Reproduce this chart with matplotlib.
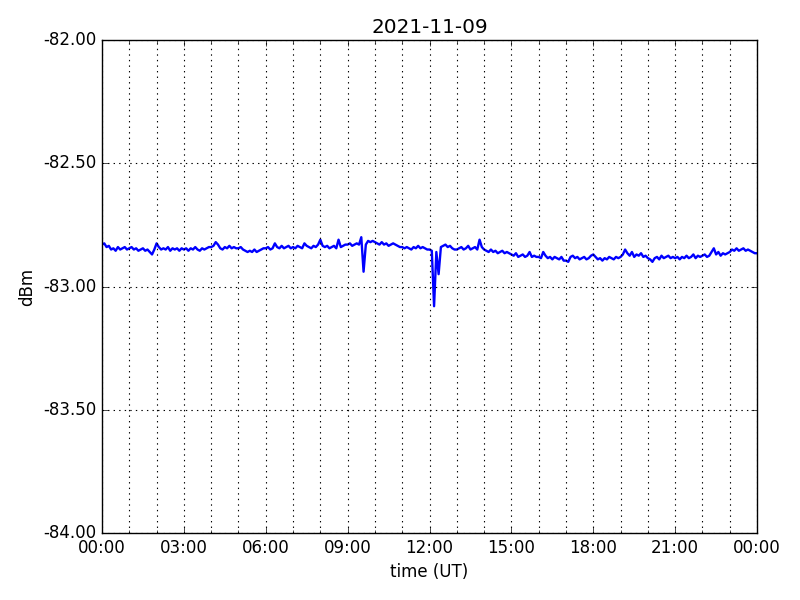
import numpy as np
import pandas as pd
import matplotlib
matplotlib.use("Agg")
import matplotlib.pyplot as plt
import matplotlib.dates as mdates
from matplotlib.ticker import FormatStrFormatter, MultipleLocator

plt.style.use("classic")

# settings
DAY = "2021-11-09"
STEP_MIN = 5

# received level (dBm), one row per hour, 5-minute samples
h00 = [-82.830, -82.825, -82.840, -82.835, -82.850, -82.845, -82.855, -82.840, -82.850, -82.845, -82.840, -82.850]
h01 = [-82.845, -82.840, -82.850, -82.845, -82.855, -82.850, -82.845, -82.855, -82.850, -82.860, -82.870, -82.850]
h02 = [-82.825, -82.840, -82.850, -82.845, -82.850, -82.840, -82.855, -82.845, -82.850, -82.845, -82.855, -82.845]
h03 = [-82.850, -82.845, -82.855, -82.845, -82.850, -82.840, -82.850, -82.855, -82.845, -82.850, -82.845, -82.840]
h04 = [-82.840, -82.835, -82.820, -82.830, -82.845, -82.850, -82.840, -82.845, -82.835, -82.845, -82.840, -82.845]
h05 = [-82.845, -82.840, -82.850, -82.855, -82.860, -82.855, -82.860, -82.850, -82.860, -82.855, -82.850, -82.845]
h06 = [-82.845, -82.840, -82.850, -82.845, -82.825, -82.840, -82.845, -82.835, -82.845, -82.840, -82.835, -82.845]
h07 = [-82.840, -82.845, -82.835, -82.840, -82.845, -82.825, -82.835, -82.840, -82.845, -82.835, -82.840, -82.830]
h08 = [-82.810, -82.835, -82.840, -82.835, -82.845, -82.840, -82.835, -82.845, -82.810, -82.840, -82.835, -82.830]
h09 = [-82.830, -82.825, -82.835, -82.830, -82.825, -82.830, -82.800, -82.940, -82.830, -82.815, -82.820, -82.815]
h10 = [-82.820, -82.825, -82.830, -82.820, -82.830, -82.825, -82.835, -82.830, -82.825, -82.830, -82.835, -82.840]
h11 = [-82.840, -82.845, -82.840, -82.845, -82.850, -82.840, -82.845, -82.835, -82.845, -82.840, -82.845, -82.850]
h12 = [-82.850, -82.855, -83.080, -82.860, -82.950, -82.840, -82.835, -82.830, -82.840, -82.835, -82.845, -82.850]
h13 = [-82.850, -82.845, -82.840, -82.850, -82.845, -82.835, -82.850, -82.845, -82.840, -82.850, -82.810, -82.840]
h14 = [-82.850, -82.855, -82.860, -82.850, -82.860, -82.855, -82.865, -82.860, -82.855, -82.865, -82.860, -82.865]
h15 = [-82.870, -82.875, -82.865, -82.880, -82.875, -82.870, -82.880, -82.875, -82.860, -82.880, -82.875, -82.880]
h16 = [-82.880, -82.885, -82.860, -82.875, -82.885, -82.880, -82.890, -82.880, -82.885, -82.890, -82.880, -82.895]
h17 = [-82.895, -82.900, -82.880, -82.875, -82.885, -82.880, -82.890, -82.885, -82.880, -82.890, -82.885, -82.875]
h18 = [-82.870, -82.880, -82.890, -82.885, -82.895, -82.885, -82.890, -82.880, -82.885, -82.890, -82.880, -82.885]
h19 = [-82.880, -82.870, -82.850, -82.865, -82.875, -82.860, -82.880, -82.870, -82.875, -82.865, -82.880, -82.875]
h20 = [-82.885, -82.890, -82.900, -82.885, -82.880, -82.890, -82.875, -82.885, -82.880, -82.875, -82.885, -82.880]
h21 = [-82.885, -82.880, -82.890, -82.880, -82.885, -82.875, -82.885, -82.880, -82.870, -82.885, -82.875, -82.880]
h22 = [-82.875, -82.870, -82.880, -82.875, -82.860, -82.845, -82.870, -82.860, -82.875, -82.865, -82.870, -82.865]
h23 = [-82.860, -82.850, -82.855, -82.845, -82.855, -82.850, -82.845, -82.855, -82.850, -82.855, -82.860, -82.865]
h24 = [-82.865]

dbm = np.concatenate([h00, h01, h02, h03, h04, h05, h06, h07, h08, h09, h10, h11,
                      h12, h13, h14, h15, h16, h17, h18, h19, h20, h21, h22, h23, h24])
t = pd.date_range(DAY, periods=len(dbm), freq=f"{STEP_MIN}min")

fig = plt.figure(figsize=(8, 6), dpi=100, facecolor="white")
ax = fig.add_axes([0.1275, 0.1117, 0.8188, 0.8216])

ax.plot(t, dbm, color="b", lw=1.7)

ax.set_xlim(pd.Timestamp(DAY), pd.Timestamp(DAY) + pd.Timedelta(days=1))
ax.set_ylim(-84.0, -82.0)

ax.xaxis.set_major_locator(mdates.HourLocator(byhour=range(0, 24, 3)))
ax.xaxis.set_minor_locator(mdates.HourLocator())
ax.xaxis.set_major_formatter(mdates.DateFormatter("%H:%M"))
ax.yaxis.set_major_locator(MultipleLocator(0.5))
ax.yaxis.set_major_formatter(FormatStrFormatter("%.2f"))

ax.grid(True, which="major", color="k", linestyle=":", lw=0.8)
ax.xaxis.grid(True, which="minor", color="k", linestyle=":", lw=0.8)

ax.set_xlabel("time (UT)")
ax.set_ylabel("dBm")
ax.set_title(DAY)

fig.savefig("out.png", dpi=100, facecolor="white")
